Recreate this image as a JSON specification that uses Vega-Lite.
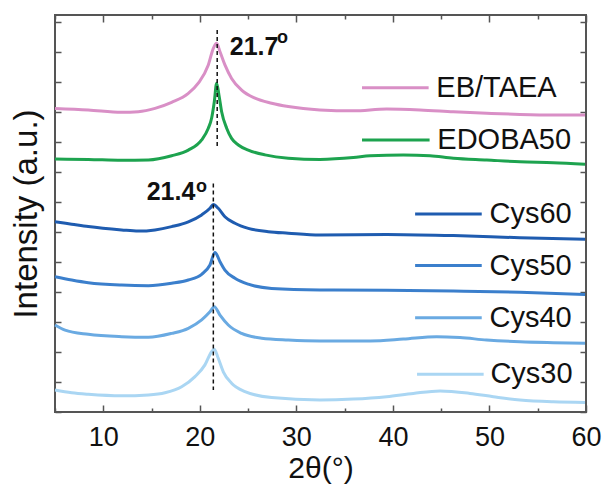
{
  "$schema": "https://vega.github.io/schema/vega-lite/v6.json",
  "width": 531,
  "height": 397,
  "autosize": "none",
  "padding": {"left": 55, "top": 15, "right": 18, "bottom": 76},
  "config": {
    "font": "Liberation Sans",
    "view": {"stroke": "#555", "strokeWidth": 2},
    "axis": {"grid": false, "domain": false, "tickColor": "#555", "tickWidth": 1.5}
  },
  "datasets": {
    "curves": [
      {"s": "EB/TAEA", "x": 5.0, "y": 10.12}, {"s": "EB/TAEA", "x": 8.45, "y": 10.07}, {"s": "EB/TAEA", "x": 11.9, "y": 9.99}, {"s": "EB/TAEA", "x": 13.63, "y": 10.01}, {"s": "EB/TAEA", "x": 15.36, "y": 10.12}, {"s": "EB/TAEA", "x": 17.08, "y": 10.32}, {"s": "EB/TAEA", "x": 18.81, "y": 10.62}, {"s": "EB/TAEA", "x": 19.84, "y": 10.96}, {"s": "EB/TAEA", "x": 20.88, "y": 11.57}, {"s": "EB/TAEA", "x": 21.4, "y": 12.12}, {"s": "EB/TAEA", "x": 21.74, "y": 12.29}, {"s": "EB/TAEA", "x": 22.09, "y": 12.01}, {"s": "EB/TAEA", "x": 22.6, "y": 11.57}, {"s": "EB/TAEA", "x": 23.29, "y": 11.12}, {"s": "EB/TAEA", "x": 24.33, "y": 10.73}, {"s": "EB/TAEA", "x": 25.71, "y": 10.46}, {"s": "EB/TAEA", "x": 27.44, "y": 10.29}, {"s": "EB/TAEA", "x": 29.16, "y": 10.18}, {"s": "EB/TAEA", "x": 32.44, "y": 10.07}, {"s": "EB/TAEA", "x": 35.9, "y": 10.04}, {"s": "EB/TAEA", "x": 39.35, "y": 10.1}, {"s": "EB/TAEA", "x": 42.81, "y": 10.07}, {"s": "EB/TAEA", "x": 46.26, "y": 10.01}, {"s": "EB/TAEA", "x": 49.71, "y": 9.96}, {"s": "EB/TAEA", "x": 53.16, "y": 9.92}, {"s": "EB/TAEA", "x": 56.61, "y": 9.9}, {"s": "EB/TAEA", "x": 59.9, "y": 9.9},
      {"s": "EDOBA50", "x": 5.0, "y": 8.43}, {"s": "EDOBA50", "x": 8.45, "y": 8.42}, {"s": "EDOBA50", "x": 11.9, "y": 8.39}, {"s": "EDOBA50", "x": 14.67, "y": 8.4}, {"s": "EDOBA50", "x": 17.08, "y": 8.54}, {"s": "EDOBA50", "x": 18.81, "y": 8.73}, {"s": "EDOBA50", "x": 20.19, "y": 9.07}, {"s": "EDOBA50", "x": 20.88, "y": 9.46}, {"s": "EDOBA50", "x": 21.22, "y": 9.79}, {"s": "EDOBA50", "x": 21.5, "y": 10.34}, {"s": "EDOBA50", "x": 21.74, "y": 10.96}, {"s": "EDOBA50", "x": 21.98, "y": 10.57}, {"s": "EDOBA50", "x": 22.26, "y": 10.01}, {"s": "EDOBA50", "x": 22.78, "y": 9.46}, {"s": "EDOBA50", "x": 23.29, "y": 9.12}, {"s": "EDOBA50", "x": 23.99, "y": 8.9}, {"s": "EDOBA50", "x": 25.02, "y": 8.73}, {"s": "EDOBA50", "x": 26.75, "y": 8.57}, {"s": "EDOBA50", "x": 29.16, "y": 8.46}, {"s": "EDOBA50", "x": 32.44, "y": 8.42}, {"s": "EDOBA50", "x": 35.9, "y": 8.48}, {"s": "EDOBA50", "x": 37.63, "y": 8.54}, {"s": "EDOBA50", "x": 41.08, "y": 8.57}, {"s": "EDOBA50", "x": 43.84, "y": 8.54}, {"s": "EDOBA50", "x": 46.26, "y": 8.46}, {"s": "EDOBA50", "x": 49.71, "y": 8.4}, {"s": "EDOBA50", "x": 53.16, "y": 8.34}, {"s": "EDOBA50", "x": 56.61, "y": 8.31}, {"s": "EDOBA50", "x": 59.9, "y": 8.26},
      {"s": "Cys60", "x": 5.0, "y": 6.34}, {"s": "Cys60", "x": 6.73, "y": 6.26}, {"s": "Cys60", "x": 8.45, "y": 6.18}, {"s": "Cys60", "x": 11.9, "y": 6.07}, {"s": "Cys60", "x": 13.63, "y": 6.03}, {"s": "Cys60", "x": 15.36, "y": 6.07}, {"s": "Cys60", "x": 17.08, "y": 6.18}, {"s": "Cys60", "x": 18.81, "y": 6.34}, {"s": "Cys60", "x": 20.19, "y": 6.57}, {"s": "Cys60", "x": 21.05, "y": 6.79}, {"s": "Cys60", "x": 21.4, "y": 6.92}, {"s": "Cys60", "x": 21.91, "y": 6.79}, {"s": "Cys60", "x": 22.6, "y": 6.51}, {"s": "Cys60", "x": 23.64, "y": 6.29}, {"s": "Cys60", "x": 25.02, "y": 6.12}, {"s": "Cys60", "x": 27.09, "y": 6.01}, {"s": "Cys60", "x": 29.16, "y": 5.96}, {"s": "Cys60", "x": 32.44, "y": 5.9}, {"s": "Cys60", "x": 39.35, "y": 5.92}, {"s": "Cys60", "x": 46.26, "y": 5.88}, {"s": "Cys60", "x": 53.16, "y": 5.81}, {"s": "Cys60", "x": 59.9, "y": 5.76},
      {"s": "Cys50", "x": 5.0, "y": 4.51}, {"s": "Cys50", "x": 6.73, "y": 4.4}, {"s": "Cys50", "x": 8.45, "y": 4.31}, {"s": "Cys50", "x": 11.9, "y": 4.23}, {"s": "Cys50", "x": 14.67, "y": 4.21}, {"s": "Cys50", "x": 17.08, "y": 4.29}, {"s": "Cys50", "x": 18.81, "y": 4.4}, {"s": "Cys50", "x": 20.19, "y": 4.59}, {"s": "Cys50", "x": 21.05, "y": 4.9}, {"s": "Cys50", "x": 21.57, "y": 5.32}, {"s": "Cys50", "x": 22.09, "y": 5.01}, {"s": "Cys50", "x": 22.6, "y": 4.73}, {"s": "Cys50", "x": 23.64, "y": 4.46}, {"s": "Cys50", "x": 25.02, "y": 4.26}, {"s": "Cys50", "x": 27.44, "y": 4.12}, {"s": "Cys50", "x": 32.44, "y": 4.07}, {"s": "Cys50", "x": 39.35, "y": 4.06}, {"s": "Cys50", "x": 46.26, "y": 4.03}, {"s": "Cys50", "x": 53.16, "y": 3.99}, {"s": "Cys50", "x": 59.9, "y": 3.92},
      {"s": "Cys40", "x": 5.0, "y": 2.9}, {"s": "Cys40", "x": 6.04, "y": 2.73}, {"s": "Cys40", "x": 8.45, "y": 2.59}, {"s": "Cys40", "x": 11.9, "y": 2.51}, {"s": "Cys40", "x": 14.67, "y": 2.49}, {"s": "Cys40", "x": 17.08, "y": 2.62}, {"s": "Cys40", "x": 18.81, "y": 2.79}, {"s": "Cys40", "x": 20.19, "y": 3.07}, {"s": "Cys40", "x": 21.05, "y": 3.34}, {"s": "Cys40", "x": 21.5, "y": 3.51}, {"s": "Cys40", "x": 22.09, "y": 3.23}, {"s": "Cys40", "x": 22.95, "y": 2.9}, {"s": "Cys40", "x": 24.33, "y": 2.62}, {"s": "Cys40", "x": 26.4, "y": 2.46}, {"s": "Cys40", "x": 29.16, "y": 2.4}, {"s": "Cys40", "x": 32.44, "y": 2.37}, {"s": "Cys40", "x": 37.63, "y": 2.37}, {"s": "Cys40", "x": 41.08, "y": 2.43}, {"s": "Cys40", "x": 44.53, "y": 2.51}, {"s": "Cys40", "x": 46.95, "y": 2.48}, {"s": "Cys40", "x": 49.71, "y": 2.4}, {"s": "Cys40", "x": 53.16, "y": 2.34}, {"s": "Cys40", "x": 56.61, "y": 2.31}, {"s": "Cys40", "x": 59.9, "y": 2.29},
      {"s": "Cys30", "x": 5.0, "y": 0.73}, {"s": "Cys30", "x": 6.73, "y": 0.64}, {"s": "Cys30", "x": 8.45, "y": 0.59}, {"s": "Cys30", "x": 11.9, "y": 0.54}, {"s": "Cys30", "x": 14.67, "y": 0.57}, {"s": "Cys30", "x": 16.39, "y": 0.64}, {"s": "Cys30", "x": 18.12, "y": 0.84}, {"s": "Cys30", "x": 19.5, "y": 1.18}, {"s": "Cys30", "x": 20.53, "y": 1.57}, {"s": "Cys30", "x": 21.22, "y": 2.01}, {"s": "Cys30", "x": 21.5, "y": 2.09}, {"s": "Cys30", "x": 21.91, "y": 1.79}, {"s": "Cys30", "x": 22.43, "y": 1.34}, {"s": "Cys30", "x": 23.29, "y": 0.96}, {"s": "Cys30", "x": 24.68, "y": 0.68}, {"s": "Cys30", "x": 27.44, "y": 0.48}, {"s": "Cys30", "x": 32.44, "y": 0.4}, {"s": "Cys30", "x": 35.9, "y": 0.43}, {"s": "Cys30", "x": 39.35, "y": 0.51}, {"s": "Cys30", "x": 42.12, "y": 0.62}, {"s": "Cys30", "x": 44.88, "y": 0.7}, {"s": "Cys30", "x": 47.98, "y": 0.62}, {"s": "Cys30", "x": 50.4, "y": 0.51}, {"s": "Cys30", "x": 53.16, "y": 0.4}, {"s": "Cys30", "x": 56.61, "y": 0.34}, {"s": "Cys30", "x": 59.9, "y": 0.32}
    ],
    "legend": [
      {"s": "EB/TAEA", "x1": 36.8, "x2": 43.7, "y": 10.81, "tx": 44.5},
      {"s": "EDOBA50", "x1": 36.8, "x2": 43.8, "y": 9.07, "tx": 44.6},
      {"s": "Cys60", "x1": 42.3, "x2": 49.2, "y": 6.6, "tx": 50.0},
      {"s": "Cys50", "x1": 42.3, "x2": 49.2, "y": 4.88, "tx": 50.0},
      {"s": "Cys40", "x1": 42.3, "x2": 49.2, "y": 3.14, "tx": 50.0},
      {"s": "Cys30", "x1": 42.5, "x2": 49.4, "y": 1.26, "tx": 50.1}
    ],
    "dash": [
      {"x": 21.8, "y1": 12.73, "y2": 8.79},
      {"x": 21.4, "y1": 7.62, "y2": 0.73}
    ],
    "peaks": [
      {"t": "21.7", "x": 23.1, "y": 11.9, "ox": 28.0, "oy": 12.45},
      {"t": "21.4", "x": 14.5, "y": 7.07, "ox": 19.6, "oy": 7.5}
    ]
  },
  "resolve": {"axis": {"x": "independent", "y": "independent"}},
  "layer": [
    {
      "data": {"name": "curves"},
      "mark": {"type": "line", "strokeWidth": 3, "interpolate": "monotone"},
      "encoding": {
        "x": {"field": "x", "type": "quantitative",
          "scale": {"domain": [5, 60], "nice": false, "zero": false},
          "axis": {"orient": "bottom", "values": [5, 10, 15, 20, 25, 30, 35, 40, 45, 50, 55, 60],
            "labelExpr": "datum.value % 10 === 0 ? datum.label : ''",
            "tickSize": {"condition": {"test": "datum.value % 10 === 0", "value": -7}, "value": -4},
            "labelPadding": 19, "labelFontSize": 27, "labelColor": "#111", "labelFlush": false,
            "title": "2θ(°)", "titleFontSize": 30, "titleFontWeight": "normal", "titleColor": "#111", "titlePadding": 3}},
        "y": {"field": "y", "type": "quantitative",
          "scale": {"domain": [0, 13.233], "nice": false, "zero": false},
          "axis": {"orient": "left", "values": [0, 1, 2, 3, 4, 5, 6, 7, 8, 9, 10, 11, 12, 13],
            "labels": false, "tickSize": -6,
            "title": "Intensity (a.u.)", "titleFontSize": 33, "titleFontWeight": "normal", "titleColor": "#111", "titlePadding": 11}},
        "color": {"field": "s", "type": "nominal", "legend": null,
          "scale": {"domain": ["EB/TAEA", "EDOBA50", "Cys60", "Cys50", "Cys40", "Cys30"],
            "range": ["#d98fc6", "#1da34f", "#1f5cb0", "#3b7fcc", "#6aaae2", "#aad6f3"]}},
        "detail": {"field": "s"}
      }
    },
    {
      "data": {"name": "dash"},
      "mark": {"type": "rule", "strokeDash": [4, 3], "strokeWidth": 1.5, "color": "#111"},
      "encoding": {
        "x": {"field": "x", "type": "quantitative",
          "axis": {"orient": "top", "values": [5, 10, 15, 20, 25, 30, 35, 40, 45, 50, 55, 60], "labels": false, "title": null,
            "tickSize": {"condition": {"test": "datum.value % 10 === 0", "value": -7}, "value": -4}}},
        "y": {"field": "y1", "type": "quantitative",
          "axis": {"orient": "right", "values": [0, 1, 2, 3, 4, 5, 6, 7, 8, 9, 10, 11, 12, 13], "labels": false, "title": null, "tickSize": -6}},
        "y2": {"field": "y2"}
      }
    },
    {
      "data": {"name": "legend"},
      "mark": {"type": "rule", "strokeWidth": 3},
      "encoding": {
        "x": {"field": "x1", "type": "quantitative", "axis": null},
        "x2": {"field": "x2"},
        "y": {"field": "y", "type": "quantitative", "axis": null},
        "color": {"field": "s", "type": "nominal", "legend": null}
      }
    },
    {
      "data": {"name": "legend"},
      "mark": {"type": "text", "align": "left", "baseline": "middle", "fontSize": 29, "color": "#111"},
      "encoding": {
        "x": {"field": "tx", "type": "quantitative", "axis": null},
        "y": {"field": "y", "type": "quantitative", "axis": null},
        "text": {"field": "s"}
      }
    },
    {
      "data": {"name": "peaks"},
      "mark": {"type": "text", "align": "left", "baseline": "alphabetic", "fontSize": 25, "fontWeight": "bold", "color": "#111"},
      "encoding": {
        "x": {"field": "x", "type": "quantitative", "axis": null},
        "y": {"field": "y", "type": "quantitative", "axis": null},
        "text": {"field": "t"}
      }
    },
    {
      "data": {"name": "peaks"},
      "mark": {"type": "text", "align": "left", "baseline": "middle", "fontSize": 18, "fontWeight": "bold", "color": "#111"},
      "encoding": {
        "x": {"field": "ox", "type": "quantitative", "axis": null},
        "y": {"field": "oy", "type": "quantitative", "axis": null},
        "text": {"value": "o"}
      }
    }
  ]
}
